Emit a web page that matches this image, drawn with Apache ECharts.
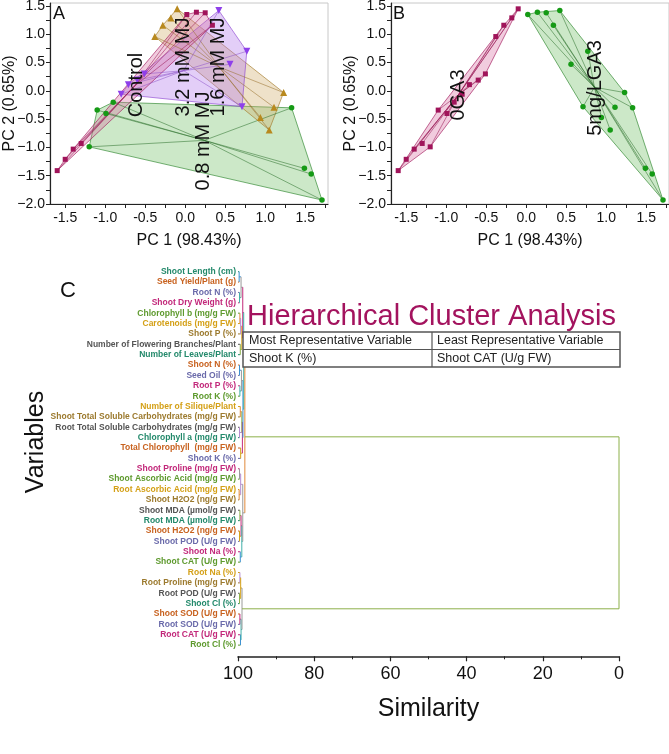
<!DOCTYPE html>
<html><head><meta charset="utf-8">
<script src="https://cdn.jsdelivr.net/npm/echarts@6/dist/echarts.min.js"></script>
<style>html,body{margin:0;padding:0;background:#fff}#c{width:669px;height:754px}</style>
</head><body><div id="c"></div>
<script>
// ---------- PCA scores [PC1, PC2] ----------
const control_ga0 = [[-1.60,-1.41],[-1.50,-1.21],[-1.40,-1.03],[-1.30,-0.93]];
const control_ga5 = [[0.02,1.35],[0.14,1.39],[0.25,1.38],[0.34,1.16]];
const mj08_ga0 = [[-1.20,-0.99],[-1.10,-0.34],[-0.99,-0.40],[-0.90,-0.20]];
const mj08_ga5 = [[1.33,-0.30],[1.49,-1.37],[1.575,-1.47],[1.71,-1.93]];
const mj16_ga0 = [[-0.38,0.96],[-0.28,1.16],[-0.18,1.29],[-0.10,1.45]];
const mj16_ga5 = [[1.23,-0.03],[1.11,-0.29],[0.94,-0.47],[1.05,-0.69]];
const mj32_ga0 = [[-0.80,-0.06],[-0.71,0.11],[-0.60,0.19],[-0.51,0.30]];
const mj32_ga5 = [[0.42,1.42],[0.77,0.70],[0.56,0.47],[0.71,-0.28]];

const pcLabelTicks = [-1.5,-1.0,-0.5,0.0,0.5,1.0,1.5];
const pc2LabelTicks = [-2.0,-1.5,-1.0,-0.5,0.0,0.5,1.0,1.5];
const similarityTicks = [0,20,40,60,80,100];

// ---------- Dendrogram ----------
const variables = [
 'Shoot Length (cm)','Seed Yield/Plant (g)','Root N (%)','Shoot Dry Weight (g)','Chlorophyll b (mg/g FW)',
 'Carotenoids (mg/g FW)','Shoot P (%)','Number of Flowering Branches/Plant','Number of Leaves/Plant','Shoot N (%)',
 'Seed Oil (%)','Root P (%)','Root K (%)','Number of Silique/Plant','Shoot Total Soluble Carbohydrates (mg/g FW)',
 'Root Total Soluble Carbohydrates (mg/g FW)','Chlorophyll a (mg/g FW)','Total Chlorophyll  (mg/g FW)','Shoot K (%)',
 'Shoot Proline (mg/g FW)','Shoot Ascorbic Acid (mg/g FW)','Root Ascorbic Acid (mg/g FW)','Shoot H2O2 (ng/g FW)',
 'Shoot MDA (µmol/g FW)','Root MDA (µmol/g FW)','Shoot H2O2 (ng/g FW)','Shoot POD (U/g FW)','Shoot Na (%)',
 'Shoot CAT (U/g FW)','Root Na (%)','Root Proline (mg/g FW)','Root POD (U/g FW)','Shoot Cl (%)',
 'Shoot SOD (U/g FW)','Root SOD (U/g FW)','Root CAT (U/g FW)','Root Cl (%)'
];
// merges: [childA, childB, similarity]; ids >= 37 refer to earlier merges
const linkage = [
 [0,1,99.7],[2,3,99.6],[37,38,99.2],[4,5,99.5],[40,6,99.3],[7,8,99.4],[41,42,99.0],[39,43,98.75],
 [9,10,99.6],[11,12,99.5],[45,46,99.1],[13,14,99.4],[15,16,99.6],[48,49,99.0],[17,18,99.3],[50,51,98.85],
 [47,52,98.7],[44,53,98.5],
 [19,20,99.6],[21,22,99.7],[55,56,99.3],[23,24,99.5],[25,26,99.6],[58,59,99.2],[27,28,99.4],[60,61,99.0],[57,62,98.75],
 [54,63,98.2],
 [29,30,99.5],[31,32,99.6],[65,66,99.3],[33,34,99.5],[35,36,99.35],[68,69,99.2],[67,70,98.95],
 [64,71,0]
];
const labelPalette = ['#23896B','#C8621F','#6A6AAA','#C2287A','#5E9A2E','#D4A017','#9C7A2E','#555555'];
const linkPalette = ['#3A8FD0','#40B0A8','#9A9A9A','#E08A3A','#B58CD0','#8DB04A','#D4A017','#C2287A'];

const FONT = '"Liberation Sans", Arial, sans-serif';

function convexHull(points){
  const p = points.slice().sort((a,b)=>a[0]-b[0]||a[1]-b[1]);
  const cross=(o,a,b)=>(a[0]-o[0])*(b[1]-o[1])-(a[1]-o[1])*(b[0]-o[0]);
  const lower=[],upper=[];
  for(const q of p){while(lower.length>=2&&cross(lower[lower.length-2],lower[lower.length-1],q)<=0)lower.pop();lower.push(q);}
  for(let i=p.length-1;i>=0;i--){const q=p[i];while(upper.length>=2&&cross(upper[upper.length-2],upper[upper.length-1],q)<=0)upper.pop();upper.push(q);}
  upper.pop();lower.pop();return lower.concat(upper);
}
function centroid(pts){let x=0,y=0;pts.forEach(p=>{x+=p[0];y+=p[1];});return [x/pts.length,y/pts.length];}

function hullSeries(gi, pts, fill, edge){
  return {type:'custom', xAxisIndex:gi, yAxisIndex:gi, silent:true, z:1, data:[[0,0]],
    renderItem:(params,api)=>{
      const h = convexHull(pts).map(p=>api.coord(p));
      return {type:'polygon', shape:{points:h}, style:{fill:fill, stroke:edge, lineWidth:0.8}};
    }};
}
function starSeries(gi, pts, stroke){
  return {type:'custom', xAxisIndex:gi, yAxisIndex:gi, silent:true, z:2, data:[[0,0]],
    renderItem:(params,api)=>{
      const c = api.coord(centroid(pts));
      return {type:'group', children: pts.map(p=>{const q=api.coord(p);
        return {type:'line', shape:{x1:c[0],y1:c[1],x2:q[0],y2:q[1]}, style:{stroke:stroke, lineWidth:0.7}};})};
    }};
}
function scatter(gi, pts, symbol, size, color, rot){
  return {type:'scatter', xAxisIndex:gi, yAxisIndex:gi, z:3, data:pts, symbol:symbol, symbolSize:size,
    symbolRotate:rot||0, itemStyle:{color:color, opacity:1}, silent:true};
}

const minorX=[]; for(let v=-1.5; v<=1.751; v+=0.25) minorX.push(+v.toFixed(2));
const minorY=[]; for(let v=-2.0; v<=1.51; v+=0.25) minorY.push(+v.toFixed(2));

function pcX(gi){return {gridIndex:gi,type:'value',min:-1.69,max:1.785,
  name:'PC 1 (98.43%)',nameLocation:'middle',nameGap:29,nameMoveOverlap:false,nameTextStyle:{fontSize:16,color:'#111',fontFamily:FONT},
  axisLine:{onZero:false,lineStyle:{color:'#222',width:1.2}},
  axisTick:{customValues:minorX,length:4,lineStyle:{color:'#222'}},
  axisLabel:{customValues:pcLabelTicks,formatter:v=>v.toFixed(1),fontSize:14,color:'#111',margin:7,fontFamily:FONT},
  splitLine:{show:false}};}
function pcY(gi){return {gridIndex:gi,type:'value',min:-2.0,max:1.553,
  name:'PC 2 (0.65%)',nameLocation:'middle',nameGap:32,nameRotate:90,nameMoveOverlap:false,nameTextStyle:{fontSize:16,color:'#111',fontFamily:FONT},
  axisLine:{onZero:false,lineStyle:{color:'#222',width:1.2}},
  axisTick:{customValues:minorY,length:4,lineStyle:{color:'#222'}},
  axisLabel:{customValues:pc2LabelTicks,formatter:v=>v.toFixed(1).replace('-','\u2212'),fontSize:14,color:'#111',margin:5,fontFamily:FONT},
  splitLine:{show:false}};}

// dendrogram layout
const nLeaf = variables.length;
const pos = [];
for(let i=0;i<nLeaf;i++) pos.push({y:i,s:100,c:labelPalette[i%8]});
linkage.forEach((m,k)=>{
  const y=(pos[m[0]].y+pos[m[1]].y)/2;
  const isRoot = k===linkage.length-1;
  pos.push({y:y,s:m[2],c: isRoot?'#8DB04A':linkPalette[k%8]});
});
const ROOT_COLOR = '#8DB04A';

const dendroSeries = {type:'custom', xAxisIndex:2, yAxisIndex:3, silent:true, z:2,
  data: linkage.map((m,k)=>[m[2],k]),
  renderItem:(params,api)=>{
    const k=params.dataIndex, m=linkage[k], node=pos[nLeaf+k];
    const isRoot = k===linkage.length-1;
    const ch=[];
    [m[0],m[1]].forEach(id=>{
      const p=pos[id];
      const a=api.coord([p.s,p.y]), b=api.coord([node.s,p.y]);
      ch.push({type:'line',shape:{x1:a[0],y1:a[1],x2:b[0],y2:b[1]},style:{stroke:isRoot?ROOT_COLOR:p.c,lineWidth:1}});
    });
    const t=api.coord([node.s,pos[m[0]].y]), u=api.coord([node.s,pos[m[1]].y]);
    ch.push({type:'line',shape:{x1:t[0],y1:t[1],x2:u[0],y2:u[1]},style:{stroke:node.c,lineWidth:1}});
    return {type:'group',children:ch};
  }};

const series = [
  // panel A
  hullSeries(0, mj08_ga0.concat(mj08_ga5), 'rgba(120,195,110,0.38)', 'rgba(40,130,40,0.8)'),
  hullSeries(0, mj16_ga0.concat(mj16_ga5), 'rgba(205,170,100,0.35)', 'rgba(160,120,40,0.8)'),
  hullSeries(0, mj32_ga0.concat(mj32_ga5), 'rgba(175,115,235,0.35)', 'rgba(140,70,210,0.8)'),
  hullSeries(0, control_ga0.concat(control_ga5), 'rgba(215,110,160,0.35)', 'rgba(160,20,90,0.8)'),
  starSeries(0, mj08_ga0.concat(mj08_ga5), 'rgba(40,110,40,0.75)'),
  starSeries(0, mj16_ga0.concat(mj16_ga5), 'rgba(150,110,40,0.75)'),
  starSeries(0, mj32_ga0.concat(mj32_ga5), 'rgba(140,80,200,0.75)'),
  starSeries(0, control_ga0.concat(control_ga5), 'rgba(150,20,80,0.75)'),
  scatter(0, control_ga0.concat(control_ga5), 'rect', 5, '#A0145A'),
  scatter(0, mj08_ga0.concat(mj08_ga5), 'circle', 5.5, '#159A15'),
  scatter(0, mj16_ga0.concat(mj16_ga5), 'triangle', 7, '#B8891E'),
  scatter(0, mj32_ga0.concat(mj32_ga5), 'triangle', 7, '#8E3FEA', 180),
  // panel B
  hullSeries(1, control_ga0.concat(mj08_ga0, mj16_ga0, mj32_ga0), 'rgba(215,110,160,0.35)', 'rgba(160,20,90,0.8)'),
  hullSeries(1, control_ga5.concat(mj08_ga5, mj16_ga5, mj32_ga5), 'rgba(120,195,110,0.38)', 'rgba(40,130,40,0.8)'),
  starSeries(1, control_ga0.concat(mj08_ga0, mj16_ga0, mj32_ga0), 'rgba(150,20,80,0.75)'),
  starSeries(1, control_ga5.concat(mj08_ga5, mj16_ga5, mj32_ga5), 'rgba(40,110,40,0.75)'),
  scatter(1, control_ga0.concat(mj08_ga0, mj16_ga0, mj32_ga0), 'rect', 5, '#A0145A'),
  scatter(1, control_ga5.concat(mj08_ga5, mj16_ga5, mj32_ga5), 'circle', 5.5, '#159A15'),
  dendroSeries
];

function rtext(x,y,t,size){return {type:'text',x:x,y:y,rotation:Math.PI/2,silent:true,z:10,
  style:{text:t,font:size+'px '+FONT,fill:'#111',align:'center',verticalAlign:'middle'}};}
function htext(x,y,t,size,color,align){return {type:'text',x:x,y:y,silent:true,z:10,
  style:{text:t,font:size+'px '+FONT,fill:color||'#111',align:align||'left',verticalAlign:'middle'}};}

const option = {
  animation:false,
  backgroundColor:'#fff',
  textStyle:{fontFamily:FONT},
  grid:[
    {left:50,top:3,width:278,height:201,show:true,borderColor:'#c8c8c8',borderWidth:1,backgroundColor:'transparent',outerBoundsMode:'none',containLabel:false},
    {left:391,top:3,width:278,height:201,show:true,borderColor:'#c8c8c8',borderWidth:1,backgroundColor:'transparent',outerBoundsMode:'none',containLabel:false},
    {left:238,top:266.5,width:381,height:383.8,outerBoundsMode:'none',containLabel:false}
  ],
  xAxis:[pcX(0),pcX(1),
    {gridIndex:2,type:'value',min:0,max:100,interval:20,inverse:true,offset:6,position:'bottom',
     name:'Similarity',nameLocation:'middle',nameGap:40,nameMoveOverlap:false,nameTextStyle:{fontSize:25,color:'#111',fontFamily:FONT},
     axisLine:{onZero:false,lineStyle:{color:'#222',width:1.5}},
     axisTick:{customValues:similarityTicks,length:5,lineStyle:{color:'#222',width:1.2}},
     minorTick:{show:true,splitNumber:2,length:3,lineStyle:{color:'#222'}},
     axisLabel:{customValues:similarityTicks,fontSize:18,color:'#111',margin:9,fontFamily:FONT},
     splitLine:{show:false},minorSplitLine:{show:false}}
  ],
  yAxis:[pcY(0),pcY(1),
    {gridIndex:2,type:'category',data:variables,inverse:true,
     axisLine:{show:false,onZero:false},axisTick:{show:false},splitLine:{show:false},
     axisLabel:{interval:0,fontSize:8.5,fontWeight:'bold',margin:2,fontFamily:FONT,
       color:(v,i)=>labelPalette[i%8]}},
    {gridIndex:2,type:'value',min:-0.5,max:36.5,inverse:true,show:false,axisLine:{onZero:false}}
  ],
  series:series,
  graphic:[
    htext(53,14,'A',18),
    htext(393,14,'B',18),
    htext(60,291,'C',22),
    rtext(136,85,'Control',20),
    rtext(183,67,'3.2 mM MJ',20),
    rtext(218,67,'1.6 mM MJ',20),
    rtext(203,141,'0.8 mM MJ',20),
    rtext(458,95,'0GA3',20),
    rtext(595,88,'5mg/LGA3',20),
    rtext(36,442,'Variables',25),
    htext(247,317,'Hierarchical Cluster Analysis',29,'#A3135E'),
    {type:'rect',z:10,silent:true,shape:{x:243,y:332,width:377,height:35},style:{fill:'#fff',stroke:'#555',lineWidth:1.5}},
    {type:'line',z:11,silent:true,shape:{x1:243,y1:349.5,x2:620,y2:349.5},style:{stroke:'#555',lineWidth:1.2}},
    {type:'line',z:11,silent:true,shape:{x1:432,y1:332,x2:432,y2:367},style:{stroke:'#555',lineWidth:1.2}},
    htext(249,341,'Most Representative Variable',12.5,'#222'),
    htext(437,341,'Least Representative Variable',12.5,'#222'),
    htext(249,358.5,'Shoot K (%)',12.5,'#222'),
    htext(437,358.5,'Shoot CAT (U/g FW)',12.5,'#222')
  ]
};
const chart = echarts.init(document.getElementById('c'));
chart.setOption(option);
</script>
</body></html>
